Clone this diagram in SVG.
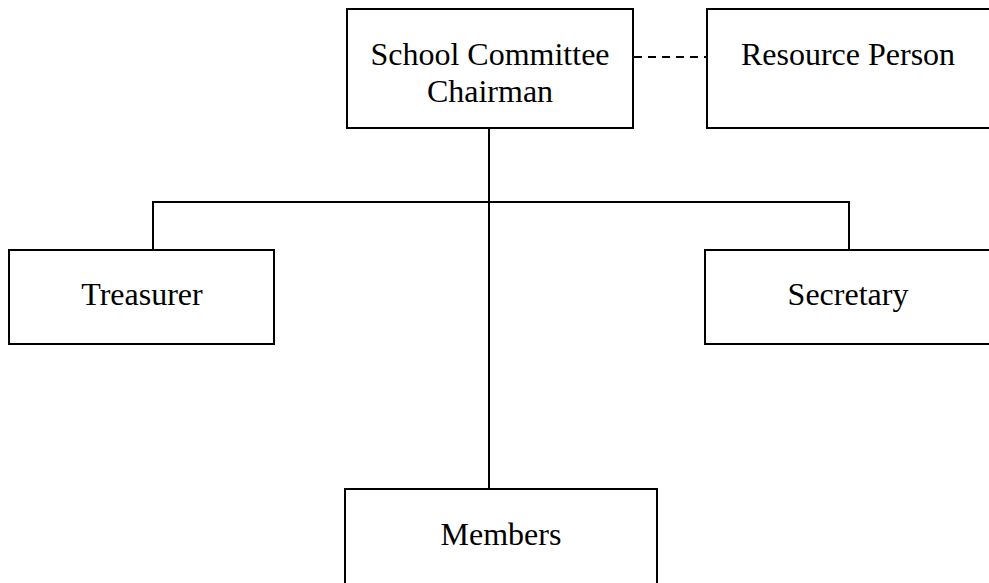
<svg xmlns="http://www.w3.org/2000/svg" width="989" height="583" viewBox="0 0 989 583">
<style>
.box{fill:#fff;stroke:#000;stroke-width:2}
.t{font-family:"Liberation Serif","Times New Roman",serif;font-size:32px;fill:#000;text-anchor:middle}
.c{fill:none;stroke:#000;stroke-width:2}
.d{fill:none;stroke:#000;stroke-width:2;stroke-dasharray:8 6}
</style>
<rect width="989" height="583" fill="#fff"/>
<g id="connectors">
<line class="c" x1="489" y1="128" x2="489" y2="489"/>
<polyline class="c" points="153,250 153,202 849,202 849,250"/>
<line class="d" x1="634" y1="57" x2="707" y2="57"/>
</g>
<g id="chairman">
<rect class="box" x="347" y="9" width="286" height="119"/>
<text class="t" x="490" y="65">School Committee</text>
<text class="t" x="490" y="102">Chairman</text>
</g>
<g id="resource">
<rect class="box" x="707" y="9" width="290" height="119"/>
<text class="t" x="848" y="65">Resource Person</text>
</g>
<g id="treasurer">
<rect class="box" x="9" y="250" width="265" height="94"/>
<text class="t" x="142" y="305">Treasurer</text>
</g>
<g id="secretary">
<rect class="box" x="705" y="250" width="292" height="94"/>
<text class="t" x="848" y="305">Secretary</text>
</g>
<g id="members">
<rect class="box" x="345" y="489" width="312" height="110"/>
<text class="t" x="501" y="545">Members</text>
</g>
</svg>
